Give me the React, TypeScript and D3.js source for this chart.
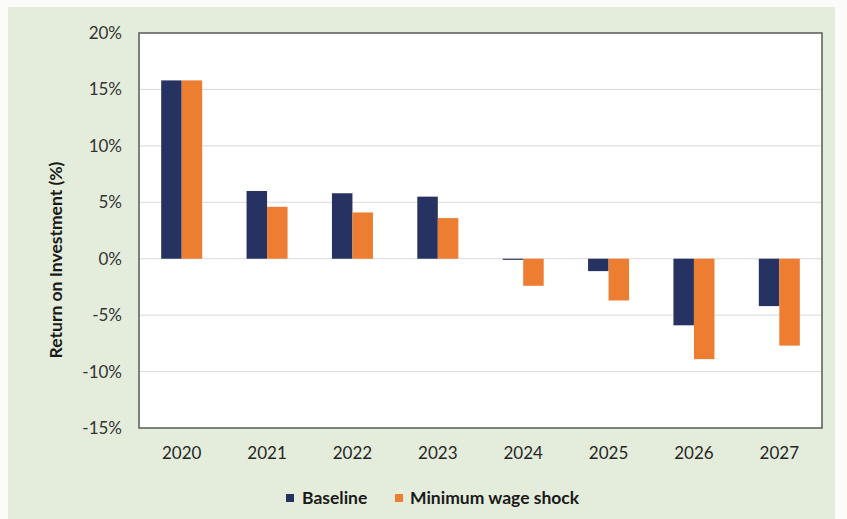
import React from "react";
import * as d3 from "d3";

const years = ["2020", "2021", "2022", "2023", "2024", "2025", "2026", "2027"];
const baseline = [15.8, 6.0, 5.8, 5.5, -0.1, -1.1, -5.9, -4.2];
const minWageShock = [15.8, 4.6, 4.1, 3.6, -2.4, -3.7, -8.9, -7.7];
const seriesNames = ["Baseline", "Minimum wage shock"];
const seriesColors = ["#263261", "#ed7d31"];
const yTicks = [20, 15, 10, 5, 0, -5, -10, -15];

const W = 847;
const H = 519;
const plot = { left: 139, right: 822, top: 33, bottom: 428 };
const FONT = "Lato, 'Open Sans', sans-serif";

export default function App() {
  const x0 = d3.scaleBand<string>().domain(years).range([plot.left, plot.right]).padding(0);
  const bw = x0.bandwidth();
  const pairW = 41;
  const x1 = d3
    .scaleBand<string>()
    .domain(seriesNames)
    .range([bw / 2 - pairW / 2, bw / 2 + pairW / 2])
    .padding(0);
  const y = d3.scaleLinear().domain([-15, 20]).range([plot.bottom, plot.top]);
  const series = [baseline, minWageShock];

  return (
    <svg
      width={W}
      height={H}
      style={{ position: "absolute", left: 0, top: 0, display: "block" }}
      fontFamily={FONT}
    >
      <rect x={0} y={0} width={W} height={H} fill="#fbfcf9" />
      <rect x={8} y={7} width={827} height={H - 7} fill="#e4eddb" />
      <rect
        x={plot.left}
        y={plot.top}
        width={plot.right - plot.left}
        height={plot.bottom - plot.top}
        fill="#ffffff"
      />
      {yTicks
        .filter((t) => t !== 20 && t !== -15)
        .map((t) => (
          <line
            key={"g" + t}
            x1={plot.left}
            x2={plot.right}
            y1={y(t)}
            y2={y(t)}
            stroke="#d9d9d9"
            strokeWidth={1}
          />
        ))}
      {years.map((yr, i) =>
        series.map((s, j) => {
          const v = s[i];
          const top = y(Math.max(0, v));
          const bot = y(Math.min(0, v));
          return (
            <rect
              key={yr + j}
              x={(x0(yr) as number) + (x1(seriesNames[j]) as number)}
              y={top}
              width={x1.bandwidth()}
              height={Math.max(bot - top, 1)}
              fill={seriesColors[j]}
            />
          );
        })
      )}
      <rect
        x={plot.left}
        y={plot.top}
        width={plot.right - plot.left}
        height={plot.bottom - plot.top}
        fill="none"
        stroke="#595959"
        strokeWidth={1.5}
      />
      {yTicks.map((t) => (
        <text
          key={"t" + t}
          x={122}
          y={y(t)}
          dy="0.35em"
          textAnchor="end"
          fontSize={17}
          fill="#333333"
        >
          {t + "%"}
        </text>
      ))}
      {years.map((yr) => (
        <text
          key={"x" + yr}
          x={(x0(yr) as number) + bw / 2}
          y={459}
          textAnchor="middle"
          fontSize={17}
          fill="#262626"
        >
          {yr}
        </text>
      ))}
      <text
        transform={`translate(62,260) rotate(-90)`}
        textAnchor="middle"
        fontSize={17.5}
        fontWeight="bold"
        fill="#1a1a1a"
      >
        Return on Investment (%)
      </text>
      <g>
        <rect x={286} y={494} width={8} height={8} fill={seriesColors[0]} />
        <text x={302} y={503.5} fontSize={17.5} fontWeight="bold" fill="#1a1a1a">
          {seriesNames[0]}
        </text>
        <rect x={395} y={494} width={8} height={8} fill={seriesColors[1]} />
        <text x={410} y={503.5} fontSize={17.5} fontWeight="bold" fill="#1a1a1a">
          {seriesNames[1]}
        </text>
      </g>
    </svg>
  );
}
